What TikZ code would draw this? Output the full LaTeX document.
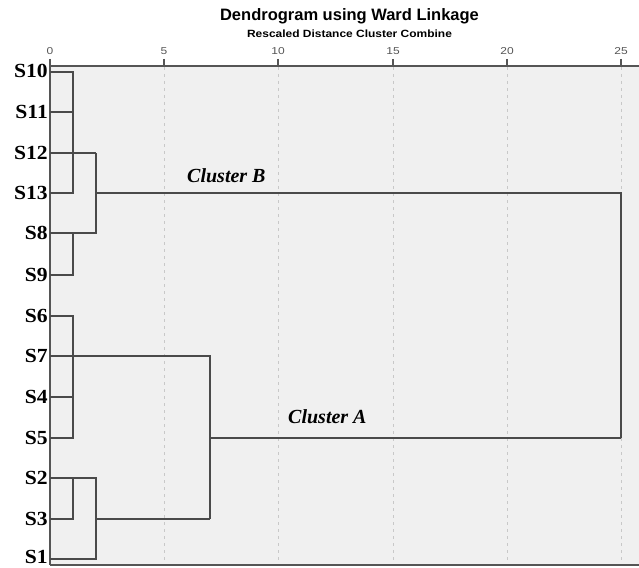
\documentclass[tikz,border=0pt]{standalone}
\usepackage{fontspec}
\setmainfont{Liberation Serif}
\setsansfont{Liberation Sans}
\begin{document}
\begin{tikzpicture}[x=1pt,y=-1pt,
  leaf/.style={anchor=base east,inner sep=0pt,font=\fontsize{20}{20}\selectfont\bfseries},
  tree/.style={line width=1.8pt,draw=treegray,line join=miter},
  axisline/.style={line width=1.8pt,draw=axisgray},
  gridline/.style={line width=1pt,draw=gridgray,dash pattern=on 3pt off 4pt},
  ticklabel/.style={anchor=base,inner sep=0pt,text=tickgray,font=\sffamily\fontsize{10}{10}\selectfont},
  clusterlabel/.style={anchor=base west,inner sep=0pt,font=\fontsize{20}{20}\selectfont\bfseries\itshape}]
\definecolor{treegray}{HTML}{4A4A4A}
\definecolor{axisgray}{HTML}{555555}
\definecolor{gridgray}{HTML}{C8C8C8}
\definecolor{tickgray}{HTML}{555555}
\definecolor{plotbg}{HTML}{F0F0F0}
\useasboundingbox (0,0) rectangle (639,567);
\fill[white] (0,0) rectangle (639,567);
% plot area
\fill[plotbg] (50,66) rectangle (639,565);
% grid lines and ticks on the distance scale
\foreach \d/\px in {5/164,10/278,15/393,20/507,25/621}{
  \draw[gridline] (\px,67) -- (\px,564);
}
\foreach \d/\px in {0/50,5/164,10/278,15/393,20/507,25/621}{
  \draw[line width=1.5pt,draw=axisgray] (\px,59) -- (\px,66);
  \node[ticklabel] (t\d) at (\px,55) {\scalebox{1.2}[1]{\d}};
}
\draw[axisline] (50,66) -- (639,66);
\draw[axisline] (50,565) -- (639,565);
\draw[axisline] (50,66) -- (50,565);
% titles
\node[anchor=base,inner sep=0pt,font=\sffamily\bfseries\fontsize{16.5}{16.5}\selectfont] (title) at (349.5,21) {Dendrogram using Ward Linkage};
\node[anchor=base,inner sep=0pt,font=\sffamily\bfseries\fontsize{10.5}{10.5}\selectfont] (subtitle) at (349.5,38) {\scalebox{1.14}[1]{Rescaled Distance Cluster Combine}};
% leaves
\foreach \n/\y/\b in {10/72/78,11/112/118,12/153/159,13/193/199,8/233/239,9/275/281,6/316/322,7/356/362,4/397/403,5/438/444,2/478/484,3/519/525,1/559/563.5}{
  \node[leaf] (s\n) at (48,\b) {\scalebox{1.08}[1]{S\n}};
  \coordinate (l\n) at (50,\y);
}
% merge points
\coordinate (jB1) at (73,153);
\coordinate (jB2) at (73,233);
\coordinate (jB)  at (96,193);
\coordinate (jA1) at (73,356);
\coordinate (jA2) at (73,519);
\coordinate (jA3) at (96,519);
\coordinate (jA)  at (210,438);
\coordinate (root) at (621,193);
% cluster B
\draw[tree] (l10) -- (l10 -| jB1) -- (l13 -| jB1) -- (l13);
\draw[tree] (l11) -- (l11 -| jB1);
\draw[tree] (l12) -- (l12 -| jB);
\draw[tree] (l9) -- (l9 -| jB2) -- (l8 -| jB2);
\draw[tree] (l8) -- (l8 -| jB) -- (l12 -| jB);
\draw[tree] (jB) -- (root) -- (root |- jA);
% cluster A
\draw[tree] (l6) -- (l6 -| jA1) -- (l5 -| jA1) -- (l5);
\draw[tree] (l4) -- (l4 -| jA1);
\draw[tree] (l7) -- (l7 -| jA) -- (jA3 -| jA);
\draw[tree] (l3) -- (l3 -| jA2) -- (l2 -| jA2);
\draw[tree] (l2) -- (l2 -| jA3) -- (l1 -| jA3) -- (l1);
\draw[tree] (jA3) -- (jA3 -| jA);
\draw[tree] (jA) -- (root |- jA);
% cluster names
\node[clusterlabel] (cb) at (187,182) {Cluster B};
\node[clusterlabel] (ca) at (288,423) {Cluster A};
\end{tikzpicture}
\end{document}
